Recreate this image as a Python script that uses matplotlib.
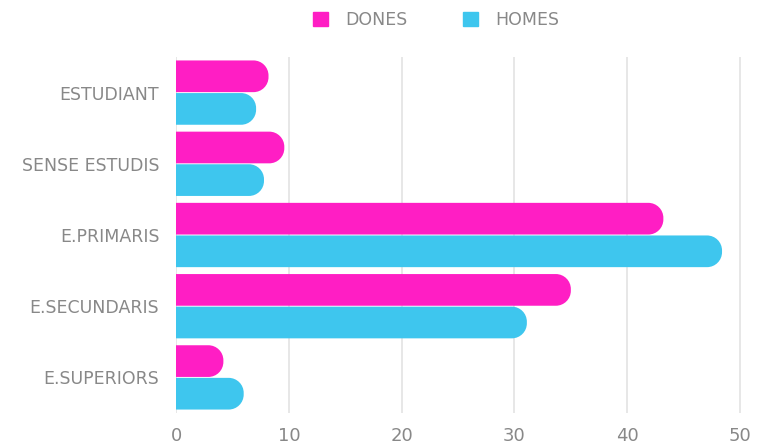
import matplotlib.pyplot as plt
from matplotlib.path import Path
from matplotlib.patches import PathPatch, Patch

categories = ["ESTUDIANT", "SENSE ESTUDIS", "E.PRIMARIS", "E.SECUNDARIS", "E.SUPERIORS"]
dones = [8.2, 9.6, 43.2, 35.0, 4.2]
homes = [7.1, 7.8, 48.4, 31.1, 6.0]
xticks = [0, 10, 20, 30, 40, 50]

col_dones = "#ff1ec4"
col_homes = "#3ec6ee"
txt = "#888888"

plt.rcParams['font.family'] = ['DejaVu Sans']

fig = plt.figure(figsize=(7.63, 4.45), dpi=100)
ax = fig.add_axes([176 / 763, (445 - 413) / 445, (757 - 176) / 763, (413 - 57) / 445])
ax.set_xlim(0, 51.5)
ax.set_ylim(len(categories) - 0.5, -0.5)

# pixels per data unit, used for the rounded ends
p0 = ax.transData.transform((0, 0))
p1 = ax.transData.transform((1, 1))
sx = abs(p1[0] - p0[0])
sy = abs(p1[1] - p0[1])
r_px = 15


def rounded_bar(x1, yc, h, color):
    y0, y1 = yc - h / 2, yc + h / 2
    rx = min(r_px / sx, x1 / 2)
    ry = r_px / sy
    k = 0.5523
    verts = [(0, y0), (x1 - rx, y0),
             (x1 - rx + k * rx, y0), (x1, y0 + ry - k * ry), (x1, y0 + ry),
             (x1, y1 - ry),
             (x1, y1 - ry + k * ry), (x1 - rx + k * rx, y1), (x1 - rx, y1),
             (0, y1), (0, y0)]
    codes = [Path.MOVETO, Path.LINETO,
             Path.CURVE4, Path.CURVE4, Path.CURVE4,
             Path.LINETO,
             Path.CURVE4, Path.CURVE4, Path.CURVE4,
             Path.LINETO, Path.CLOSEPOLY]
    ax.add_patch(PathPatch(Path(verts, codes), facecolor=color, edgecolor="none", zorder=3))


h = 0.445
for i in range(len(categories)):
    rounded_bar(dones[i], i - 0.229, h, col_dones)
    rounded_bar(homes[i], i + 0.229, h, col_homes)

ax.set_xticks(xticks)
ax.set_yticks(range(len(categories)))
ax.set_yticklabels(categories)
ax.grid(axis="x", color="#e3e3e3", linewidth=1.2, zorder=0)
ax.set_axisbelow(True)
for s in ax.spines.values():
    s.set_visible(False)
ax.tick_params(axis="both", length=0, colors=txt)
ax.tick_params(axis="y", pad=12, labelsize=12.5)
ax.tick_params(axis="x", pad=10, labelsize=13)

handles = [Patch(color=col_dones, label="DONES"), Patch(color=col_homes, label="HOMES")]
fig.legend(handles=handles, loc="center", bbox_to_anchor=(436 / 763, 1 - 20 / 445),
           ncol=2, frameon=False, fontsize=12.5, labelcolor=txt,
           handlelength=0.85, handleheight=0.85, handletextpad=1.0, columnspacing=3.2)

fig.savefig("out.png", dpi=100)
